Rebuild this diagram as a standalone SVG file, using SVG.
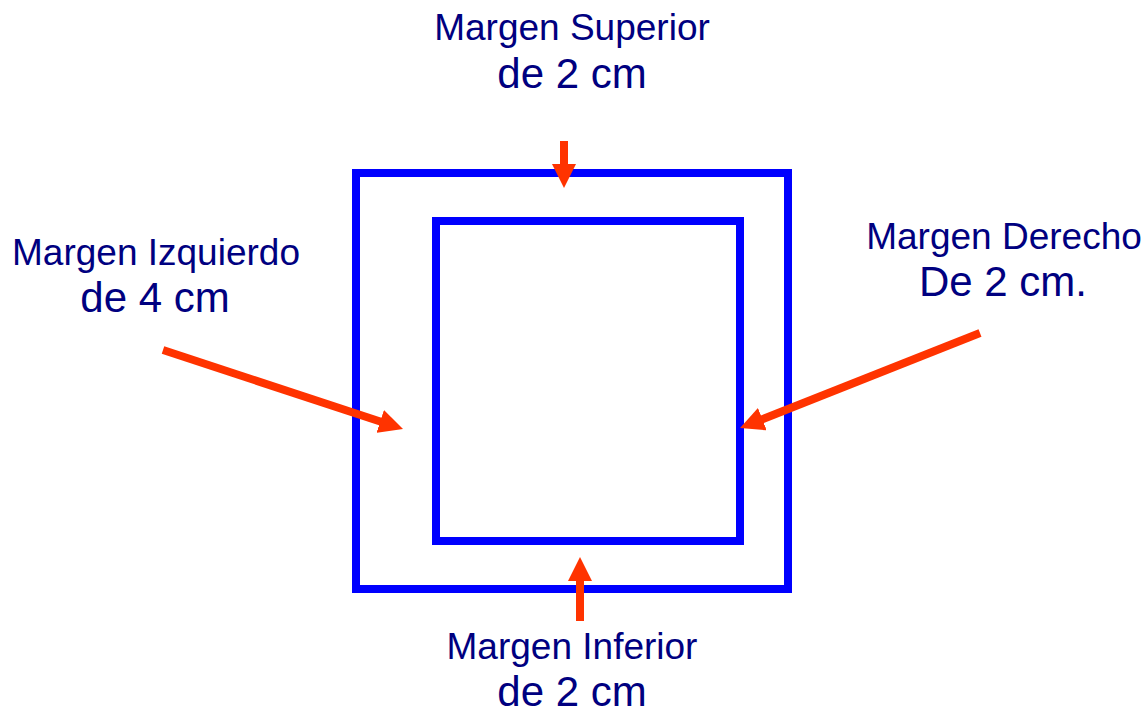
<svg xmlns="http://www.w3.org/2000/svg" width="1148" height="715" viewBox="0 0 1148 715">
<style>
.lbl{font-family:"Liberation Sans",Arial,sans-serif;fill:#000080;text-anchor:middle}
.s1{font-size:37px}
.s2{font-size:42px}
.box{fill:none;stroke:#0000FF;stroke-width:8}
.arr{stroke:#FF3300;stroke-width:8;fill:none}
</style>
<defs>
<marker id="ah" markerUnits="userSpaceOnUse" viewBox="0 0 24 24" markerWidth="24" markerHeight="24" refX="12" refY="12" orient="auto">
<path d="M0,0 L24,12 L0,24 z" fill="#FF3300"/>
</marker>
</defs>
<rect width="1148" height="715" fill="#FFFFFF"/>
<g id="outer-box"><rect class="box" x="356" y="173" width="432" height="416"/></g>
<g id="inner-box"><rect class="box" x="436" y="221" width="304" height="320"/></g>
<g id="label-top"><text class="lbl s1" x="572" y="40">Margen Superior</text><text class="lbl s2" x="572" y="88">de 2 cm</text></g>
<g id="label-left"><text class="lbl s1" x="156" y="265">Margen Izquierdo</text><text class="lbl s2" x="155" y="312">de 4 cm</text></g>
<g id="label-right"><text class="lbl s1" x="1004" y="249">Margen Derecho</text><text class="lbl s2" x="1003" y="296">De 2 cm.</text></g>
<g id="label-bottom"><text class="lbl s1" x="572" y="659">Margen Inferior</text><text class="lbl s2" x="572" y="706">de 2 cm</text></g>
<g id="connectors">
<line class="arr" x1="564" y1="141" x2="564" y2="176" marker-end="url(#ah)"/>
<line class="arr" x1="580" y1="621" x2="580" y2="569" marker-end="url(#ah)"/>
<line class="arr" x1="163" y1="350" x2="391.6" y2="425.2" marker-end="url(#ah)"/>
<line class="arr" x1="980" y1="333" x2="751.2" y2="423.6" marker-end="url(#ah)"/>
</g>
</svg>
